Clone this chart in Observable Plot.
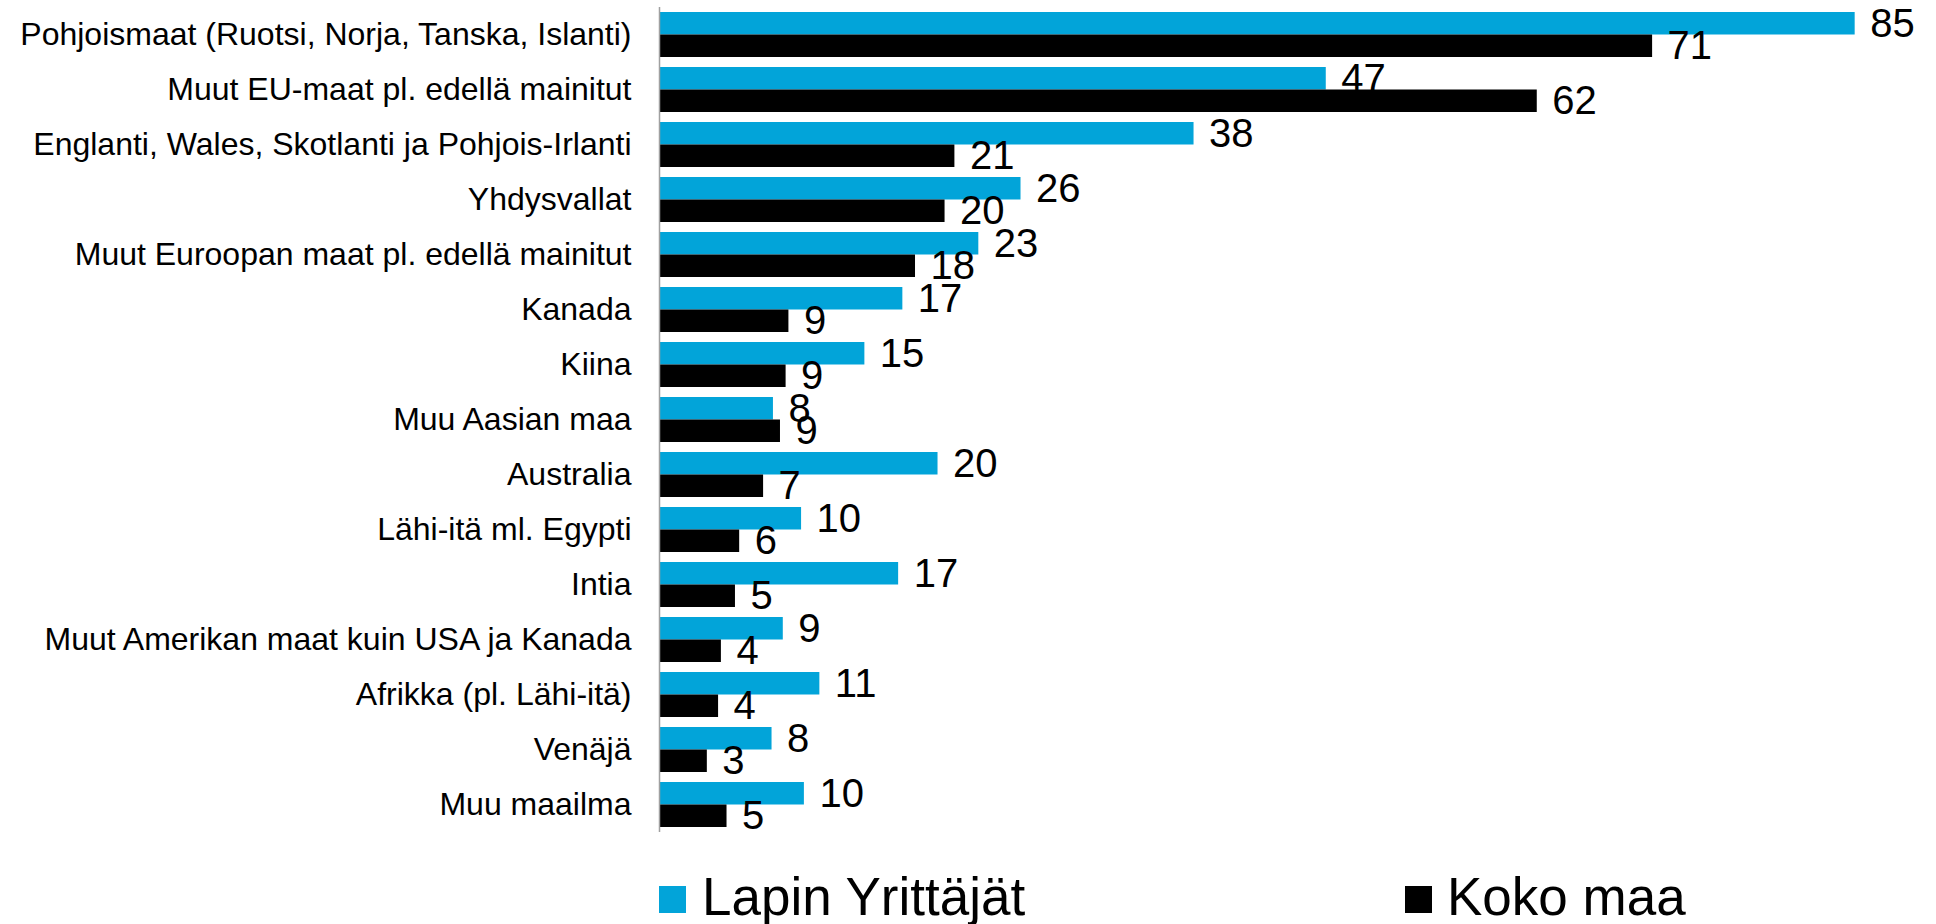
<!DOCTYPE html>
<html>
<head>
<meta charset="utf-8">
<script src="https://cdn.jsdelivr.net/npm/d3@7"></script>
<script src="https://cdn.jsdelivr.net/npm/@observablehq/plot@0.6"></script>
<style>
  body { margin: 0; background: #fff; font-family: "Liberation Sans", Arial, sans-serif; }
  #chart svg { display: block; overflow: visible; }
  #legend { position: relative; height: 84px; width: 1936px; }
  .sw { position: absolute; width: 27px; height: 27px; top: 46px; }
  .lab { position: absolute; top: 30px; font-size: 53px; line-height: 54px; white-space: nowrap; color: #000; }
</style>
</head>
<body>
<div id="chart"></div>
<div id="legend"></div>
<script>
const categories = [
  "Pohjoismaat (Ruotsi, Norja, Tanska, Islanti)",
  "Muut EU-maat pl. edellä mainitut",
  "Englanti, Wales, Skotlanti ja Pohjois-Irlanti",
  "Yhdysvallat",
  "Muut Euroopan maat pl. edellä mainitut",
  "Kanada",
  "Kiina",
  "Muu Aasian maa",
  "Australia",
  "Lähi-itä ml. Egypti",
  "Intia",
  "Muut Amerikan maat kuin USA ja Kanada",
  "Afrikka (pl. Lähi-itä)",
  "Venäjä",
  "Muu maailma"
];
const lapinValues = [85.0, 47.4, 38.0, 25.7, 22.7, 17.3, 14.6, 8.1, 19.8, 10.1, 17.0, 8.8, 11.4, 8.0, 10.3];
const kokoValues  = [70.6, 62.4, 21.0, 20.3, 18.2, 9.2, 9.0, 8.6, 7.4, 5.7, 5.4, 4.4, 4.2, 3.4, 4.8];
const seriesNames = ["Lapin Yrittäjät", "Koko maa"];
const seriesColors = ["#02a4d9", "#000000"];

const lapinRows = categories.map((c, i) => ({category: c, series: seriesNames[0], value: lapinValues[i]}));
const kokoRows = categories.map((c, i) => ({category: c, series: seriesNames[1], value: kokoValues[i]}));

const half = 22.5;

const chart = Plot.plot({
  width: 1936,
  height: 840,
  marginLeft: 659,
  marginRight: 11,
  marginTop: 7,
  marginBottom: 8,
  style: {fontFamily: "Liberation Sans, Arial, sans-serif", fontSize: "32px", color: "#000", background: "#fff", overflow: "visible"},
  x: {domain: [0, 90], axis: null},
  y: {domain: categories, paddingInner: 10 / 55, paddingOuter: 5 / 55, tickSize: 0, tickPadding: 28, label: null},
  marks: [
    Plot.barX(lapinRows, {x: "value", y: "category", fill: seriesColors[0], insetBottom: half}),
    Plot.barX(kokoRows, {x: "value", y: "category", fill: seriesColors[1], insetTop: half}),
    Plot.ruleX([0], {stroke: "#a0a0a0", strokeWidth: 1.5}),
    Plot.text(lapinRows, {x: "value", y: "category", text: d => String(Math.round(d.value)), dx: 15, dy: -half / 2, textAnchor: "start", fontSize: 40, fill: "#000"}),
    Plot.text(kokoRows, {x: "value", y: "category", text: d => String(Math.round(d.value)), dx: 15, dy: half / 2, textAnchor: "start", fontSize: 40, fill: "#000"})
  ]
});
document.getElementById("chart").appendChild(chart);

const legend = document.getElementById("legend");
const legendPos = [[659, 702], [1405, 1447]];
seriesNames.forEach((name, i) => {
  const sw = document.createElement("div");
  sw.className = "sw";
  sw.style.left = legendPos[i][0] + "px";
  sw.style.background = seriesColors[i];
  legend.appendChild(sw);
  const lab = document.createElement("div");
  lab.className = "lab";
  lab.style.left = legendPos[i][1] + "px";
  lab.textContent = name;
  legend.appendChild(lab);
});
</script>
</body>
</html>
